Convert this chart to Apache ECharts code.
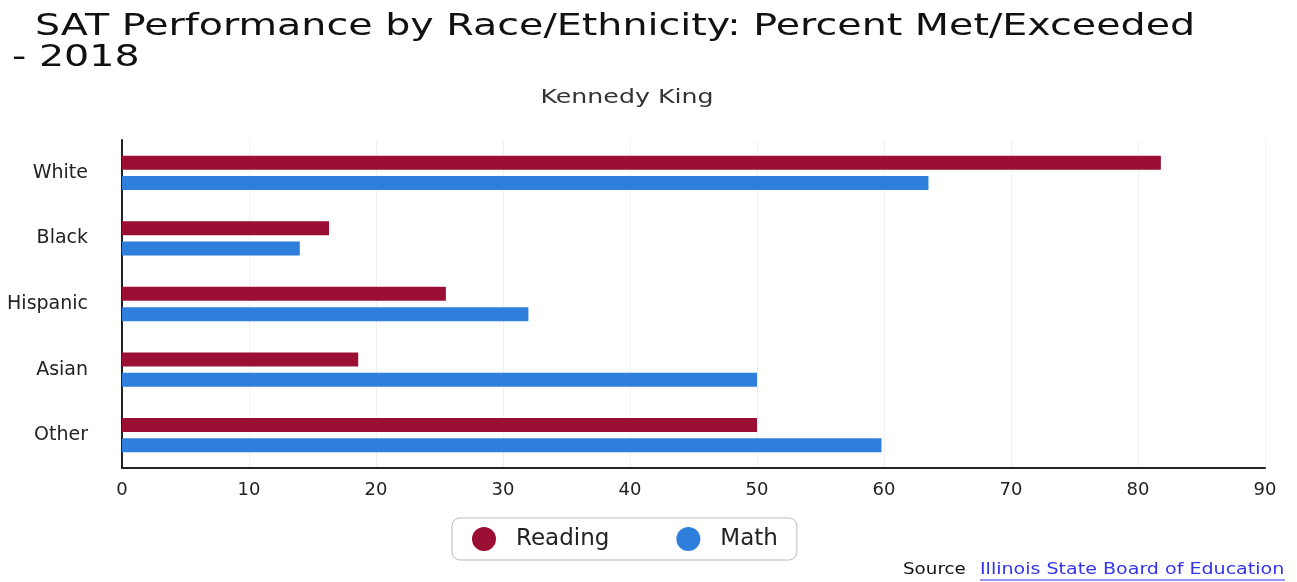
<!DOCTYPE html>
<html><head><meta charset="utf-8">
<script src="https://cdn.jsdelivr.net/npm/echarts@6/dist/echarts.min.js"></script>
<style>html,body{margin:0;padding:0;background:#fff}#c{width:1297px;height:582px}</style>
</head><body><div id="c"></div>
<script>
const categories = ["White", "Black", "Hispanic", "Asian", "Other"];
const readingValues = [81.8, 16.3, 25.5, 18.6, 50];
const mathValues = [63.5, 14.0, 32.0, 50, 59.8];
const xTicks = [0, 10, 20, 30, 40, 50, 60, 70, 80, 90];
const titleLine1 = 'SAT Performance by Race/Ethnicity: Percent Met/Exceeded';
const titleLine2 = '- 2018';
const subtitle = 'Kennedy King';

const font = "DejaVu Sans";
const chart = echarts.init(document.getElementById('c'));
function txt(text, x, y, size, color, sx, align) {
  return { type: 'text', x: x, y: y, scaleX: sx, originX: 0, originY: 0,
    style: { text: text, font: size + 'px "' + font + '"', fill: color,
      align: align || 'left', verticalAlign: 'top' } };
}
chart.setOption({
  animation: false,
  backgroundColor: '#fff',
  grid: { left: 122, right: 32, top: 140, bottom: 114, containLabel: false },
  xAxis: {
    type: 'value', min: 0, max: 90, interval: 10,
    axisLine: { show: true, lineStyle: { color: '#222', width: 2 } },
    axisTick: { show: false },
    axisLabel: { fontFamily: font, fontSize: 18, color: '#222', margin: 13,
      formatter: v => xTicks.includes(v) ? String(v) : '' },
    splitLine: { show: true, lineStyle: { color: '#f0f0f0', width: 1 } }
  },
  yAxis: {
    type: 'category', data: categories, inverse: true,
    axisLine: { show: true, lineStyle: { color: '#222', width: 2 } },
    axisTick: { show: false },
    axisLabel: { fontFamily: font, fontSize: 19, color: '#222', margin: 34 }
  },
  legend: {
    data: ['Reading', 'Math'], top: 518, left: 452,
    icon: 'circle', itemWidth: 24, itemHeight: 24, itemGap: 67,
    padding: [9, 19, 9, 20],
    borderColor: '#bbb', borderWidth: 1, borderRadius: 8,
    textStyle: { fontFamily: font, fontSize: 23, color: '#222', padding: [0, 0, 0, 15] }
  },
  series: [
    { name: 'Reading', type: 'bar', data: readingValues, barWidth: 14, barGap: '45%',
      itemStyle: { color: '#9a0f33' } },
    { name: 'Math', type: 'bar', data: mathValues, barWidth: 14, barGap: '45%',
      itemStyle: { color: '#2e7fdc' } }
  ],
  graphic: [
    txt(titleLine1, 35, 12, 30, '#111', 1.32),
    txt(titleLine2, 12, 43, 30, '#111', 1.32),
    { type: 'text', x: 627, y: 89, scaleX: 1.33, originX: 0, originY: 0,
      style: { text: subtitle, font: '19px "' + font + '"', fill: '#333', align: 'center', verticalAlign: 'top' } },
    txt('Source', 903, 563, 15, '#111', 1.22),
    txt('Illinois State Board of Education', 980, 563, 15, '#3333ee', 1.27),
    { type: 'line', shape: { x1: 980, y1: 580, x2: 1285, y2: 580 },
      style: { stroke: '#3333ee', lineWidth: 1 } }
  ]
});
</script></body></html>
